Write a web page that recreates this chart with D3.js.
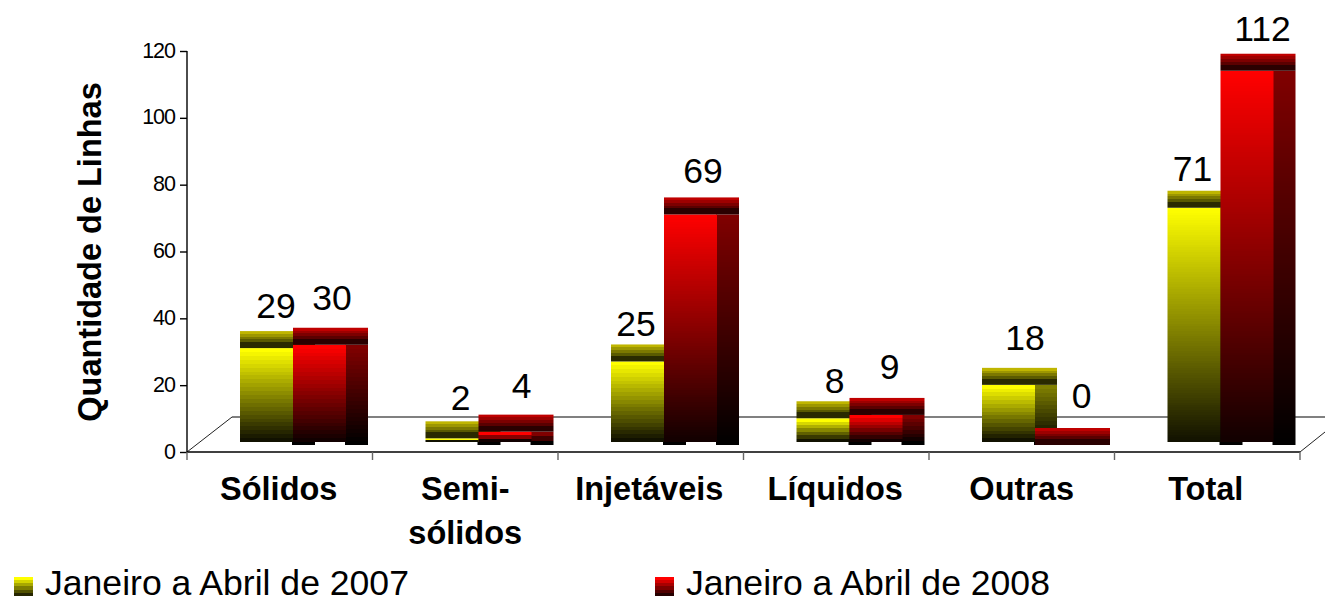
<!DOCTYPE html>
<html><head><meta charset="utf-8">
<script src="https://cdnjs.cloudflare.com/ajax/libs/d3/7.8.5/d3.min.js"></script>
<style>html,body{margin:0;padding:0;background:#fff}svg{display:block;font-family:"Liberation Sans",Arial,sans-serif}</style>
</head><body><svg id="c" width="1325" height="598"></svg>
<script>
const categories = ["Sólidos","Semi-|sólidos","Injetáveis","Líquidos","Outras","Total"];
const seriesNames = ["Janeiro a Abril de 2007","Janeiro a Abril de 2008"];
const values2007 = [29,2,25,8,18,71];
const values2008 = [30,4,69,9,0,112];
const yTicks = [0,20,40,60,80,100,120];

const svg = d3.select("#c"), defs = svg.append("defs");
const plot = {left:187,right:1300,top:51,bottom:452};
const floor = {dx:45,dy:35,barBase:7};
const depth = {w:22,h:17};
const y = d3.scaleLinear().domain([0,120]).range([plot.bottom,plot.top]);
const x0 = d3.scaleBand().domain(categories).range([plot.left,plot.right]);
const x1 = d3.scaleBand().domain(seriesNames).range([53,159]);

const palette = [
 {front:["#ffff00","#111100"],side:["#808000","#000000"],cap:["#bfb500","#5a5a00"],capDark:"#2a2a00",legend:["#ffff00","#262600"]},
 {front:["#ff0000","#110000"],side:["#800000","#000000"],cap:["#bf0000","#5a0000"],capDark:"#2a0000",legend:["#ff0000","#260000"]}
];
let gid=0;
function banded(from,to,n,tail){
  const id="g"+(gid++), g=defs.append("linearGradient").attr("id",id).attr("x1",0).attr("x2",0).attr("y1",0).attr("y2",1);
  const c=d3.interpolateRgb(from,to), body=tail?1-tail.frac:1;
  for(let i=0;i<n;i++){
    const col=c(n===1?0:i/(n-1));
    g.append("stop").attr("offset",body*i/n).attr("stop-color",col);
    g.append("stop").attr("offset",body*(i+1)/n).attr("stop-color",col);
  }
  if(tail){g.append("stop").attr("offset",body).attr("stop-color",tail.color);g.append("stop").attr("offset",1).attr("stop-color",tail.color);}
  return "url(#"+id+")";
}
const bandsFor=h=>Math.max(1,Math.round(h/(h>120?2.5:4)));

// floor + walls
const grid=svg.append("g");
grid.append("line").attr("x1",plot.left+floor.dx).attr("x2",1325).attr("y1",plot.bottom-floor.dy).attr("y2",plot.bottom-floor.dy).attr("stroke","#808080").attr("stroke-width",2);
grid.append("line").attr("x1",plot.left).attr("y1",plot.bottom).attr("x2",plot.left+floor.dx).attr("y2",plot.bottom-floor.dy).attr("stroke","#222");
grid.append("line").attr("x1",plot.right).attr("y1",plot.bottom).attr("x2",plot.right+25).attr("y2",plot.bottom-20).attr("stroke","#222");

// axes
const yAxis=svg.append("g").attr("transform",`translate(${plot.left},0)`).call(d3.axisLeft(y).tickValues(yTicks).tickSize(7).tickPadding(5));
yAxis.selectAll("text").attr("font-size",21.5).attr("fill","#000").attr("letter-spacing",-1).attr("dy","0.28em").attr("font-family","Liberation Sans");
yAxis.selectAll("path,line").attr("stroke","#000").attr("stroke-width",1.4);
yAxis.select("path").attr("d",`M0,${plot.top}V${plot.bottom}`);
const xAxis=svg.append("g").attr("transform",`translate(0,${plot.bottom})`);
xAxis.append("line").attr("x1",plot.left).attr("x2",plot.right).attr("stroke","#000").attr("stroke-width",1.6);
xAxis.selectAll("line.t").data(categories.map(c=>x0(c)).concat(plot.right)).join("line").attr("class","t").attr("x1",d=>d).attr("x2",d=>d).attr("y1",0).attr("y2",8).attr("stroke","#666").attr("stroke-width",1.4);

// bars
const base=y(0)-floor.barBase;
const labelNudge=[-1,2,-2,6,-12,2,1,3,6,9.5,-12,5];
const labelY=[318,310,410,398,336,183,393,379,350,408,181,41];
categories.forEach((cat,ci)=>{
  [values2007,values2008].forEach((vals,si)=>{
    const v=vals[ci], p=palette[si], bx=x0(cat)+x1(seriesNames[si]), w=x1.bandwidth();
    const ft=y(v)-floor.barBase;
    const g=svg.append("g");
    if(v>0){
      const sh=base-ft;
      g.append("rect").attr("x",bx+w-1).attr("y",ft).attr("width",depth.w+1).attr("height",sh)
       .attr("fill",banded(p.side[0],p.side[1],bandsFor(sh)));
      g.append("rect").attr("x",bx).attr("y",ft).attr("width",w).attr("height",Math.max(0,base-3-ft))
       .attr("fill",banded(p.front[0],p.front[1],bandsFor(sh)));
    }
    g.append("rect").attr("x",bx).attr("y",ft-depth.h).attr("width",w+depth.w).attr("height",depth.h)
     .attr("fill",banded(p.cap[0],p.cap[1],4,{frac:0.35,color:p.capDark}));
    const li=ci*2+si;
    svg.append("text").attr("class","val").attr("x",bx+37+labelNudge[li]).attr("y",labelY[li])
     .attr("text-anchor","middle").attr("font-size",35.5).attr("fill","#000").text(v);
  });
});
svg.selectAll("text.val").raise();

// category labels
const catNudge=[-1,0,-1.5,-1,0,-1.5];
categories.forEach((cat,ci)=>{
  const lines=cat.split("|"), cx=x0(cat)+x0.step()/2+catNudge[ci];
  lines.forEach((l,i)=>svg.append("text").attr("x",cx).attr("y",500+i*44).attr("text-anchor","middle")
    .attr("font-size",32.5).attr("font-weight","bold").attr("fill","#000").text(l));
});
// axis title
svg.append("text").attr("transform","translate(101,252) rotate(-90)").attr("text-anchor","middle").attr("font-size",32.5).attr("font-weight","bold").text("Quantidade de Linhas");
// legend
[[14,45],[655,686]].forEach((pos,i)=>{
  svg.append("rect").attr("x",pos[0]).attr("y",577).attr("width",19).attr("height",19).attr("fill",banded(palette[i].legend[0],palette[i].legend[1],6));
  svg.append("text").attr("x",pos[1]).attr("y",595).attr("font-size",35.6).attr("fill","#000").text(seriesNames[i]);
});
</script></body></html>
